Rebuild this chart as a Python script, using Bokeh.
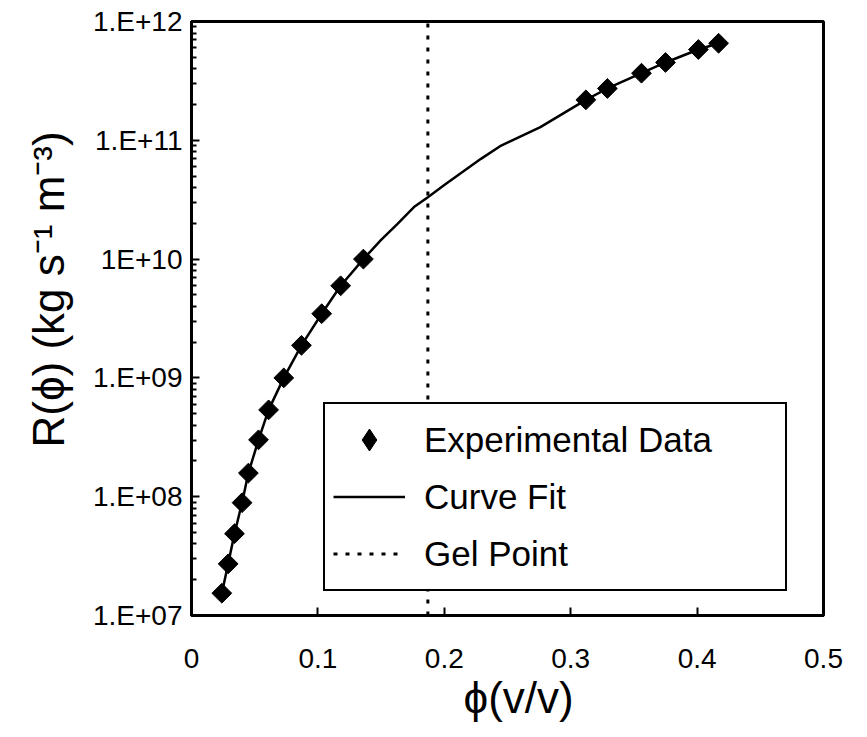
import math
from bokeh.plotting import figure
from bokeh.models import Range1d, FixedTicker, Legend, LegendItem, Title
from bokeh.embed import file_html
from bokeh.resources import INLINE

# ---------------- data ----------------
phi_exp = [0.024, 0.029, 0.034, 0.040, 0.045, 0.053, 0.061, 0.073, 0.087,
           0.103, 0.118, 0.136, 0.312, 0.329, 0.356, 0.375, 0.401, 0.417]
R_exp = [1.54e7, 2.72e7, 4.88e7, 8.9e7, 1.58e8, 3.01e8, 5.38e8, 1.0e9, 1.88e9,
         3.47e9, 5.96e9, 1.0e10, 2.19e11, 2.73e11, 3.67e11, 4.52e11, 5.81e11, 6.56e11]

phi_fit = [0.024, 0.029, 0.034, 0.040, 0.045, 0.053, 0.061, 0.073, 0.087,
           0.103, 0.118, 0.136, 0.150, 0.163, 0.176, 0.187, 0.200, 0.229,
           0.245, 0.276, 0.312, 0.329, 0.356, 0.375, 0.401, 0.417]
R_fit = [1.54e7, 2.72e7, 4.88e7, 8.9e7, 1.58e8, 3.01e8, 5.38e8, 1.0e9, 1.88e9,
         3.47e9, 5.96e9, 1.0e10, 1.45e10, 1.98e10, 2.74e10, 3.32e10, 4.2e10, 6.98e10,
         9.04e10, 1.29e11, 2.19e11, 2.73e11, 3.67e11, 4.52e11, 5.81e11, 6.56e11]

gel_phi = 0.187

x_ticks = [0, 0.1, 0.2, 0.3, 0.4, 0.5]
x_tick_labels = ["0", "0.1", "0.2", "0.3", "0.4", "0.5"]
y_ticks = [1e7, 1e8, 1e9, 1e10, 1e11, 1e12]
y_tick_labels = ["1.E+07", "1.E+08", "1.E+09", "1E+10", "1.E+11", "1.E+12"]

legend_labels = ["Experimental Data", "Curve Fit", "Gel Point"]
x_title = "\u03d5(v/v)"
y_title = "R(\u03d5) (kg s\u207b\u00b9 m\u207b\u00b3)"

# ---------------- layout ----------------
W, H = 867, 737
L, R, T, B = 191, 823, 21, 615
X0, X1 = 0.0, 0.5
Y0, Y1 = 1e7, 1e12
FONT = "Liberation Sans"

p = figure(width=W, height=H, x_range=Range1d(X0, X1), y_range=Range1d(Y0, Y1),
           y_axis_type="log", output_backend="svg", toolbar_location=None,
           min_border_left=L, min_border_right=W - R,
           min_border_top=T, min_border_bottom=H - B)
p.xgrid.visible = False
p.ygrid.visible = False
p.outline_line_color = "black"
p.outline_line_width = 3
p.outline_line_alpha = 1.0
p.background_fill_color = "white"
p.border_fill_color = "white"

for ax in (p.xaxis[0], p.yaxis[0]):
    ax.axis_line_color = "black"
    ax.axis_line_width = 3
    ax.major_tick_in = 8
    ax.major_tick_out = 0
    ax.major_tick_line_width = 2
    ax.major_tick_line_color = "black"
    ax.minor_tick_in = 5
    ax.minor_tick_out = 0
    ax.minor_tick_line_width = 2
    ax.minor_tick_line_color = "black"
    ax.major_label_text_font = FONT
    ax.major_label_text_font_size = "28px"
    ax.major_label_text_color = "black"

p.xaxis.ticker = FixedTicker(ticks=x_ticks)
p.xaxis.minor_tick_line_color = None
p.xaxis.major_label_overrides = dict(zip(x_ticks, x_tick_labels))
p.xaxis.major_label_standoff = 33

minor = [float(m * 10 ** e) for e in range(7, 12) for m in range(2, 10)]
p.yaxis.ticker = FixedTicker(ticks=y_ticks, minor_ticks=minor)
p.yaxis.major_label_overrides = dict(zip(y_ticks, y_tick_labels))
p.yaxis.major_label_standoff = 9

# axis titles as side-panel titles, shifted along the axis like the reference
p.add_layout(Title(text=y_title, align="left", offset=168, standoff=34,
                   vertical_align="bottom",
                   text_font=FONT, text_font_style="normal",
                   text_font_size="44px", text_color="black"), "left")
p.add_layout(Title(text=x_title, align="left", offset=272, standoff=0,
                   vertical_align="bottom",
                   text_font=FONT, text_font_style="normal",
                   text_font_size="44px", text_color="black"), "below")

# ---------------- glyphs ----------------
gel = p.line([gel_phi, gel_phi], [Y0, Y1], line_color="black", line_width=3,
             line_dash="4 8")
fit = p.line(phi_fit, R_fit, line_color="black", line_width=2.5)
# diamond-shaped legend swatch (hidden under the rotated squares in the plot)
pts_key = p.scatter(phi_exp, R_exp, marker="diamond", size=14,
                    fill_color="black", line_color="black")
pts = p.scatter(phi_exp, R_exp, marker="square", size=14, angle=math.pi / 4,
                fill_color="black", line_color="black")

legend = Legend(items=[LegendItem(label=legend_labels[0], renderers=[pts_key]),
                       LegendItem(label=legend_labels[1], renderers=[fit]),
                       LegendItem(label=legend_labels[2], renderers=[gel])],
                location=(132, 24), orientation="vertical",
                glyph_width=72, glyph_height=55, label_width=353, label_height=55,
                label_standoff=19, padding=8, spacing=2, margin=0,
                border_line_color="black", border_line_width=2.5,
                border_line_alpha=1.0,
                background_fill_color="white", background_fill_alpha=1.0,
                label_text_font=FONT, label_text_font_size="35px",
                label_text_color="black")
p.add_layout(legend)

open("out.html", "w").write(file_html(p, INLINE))
